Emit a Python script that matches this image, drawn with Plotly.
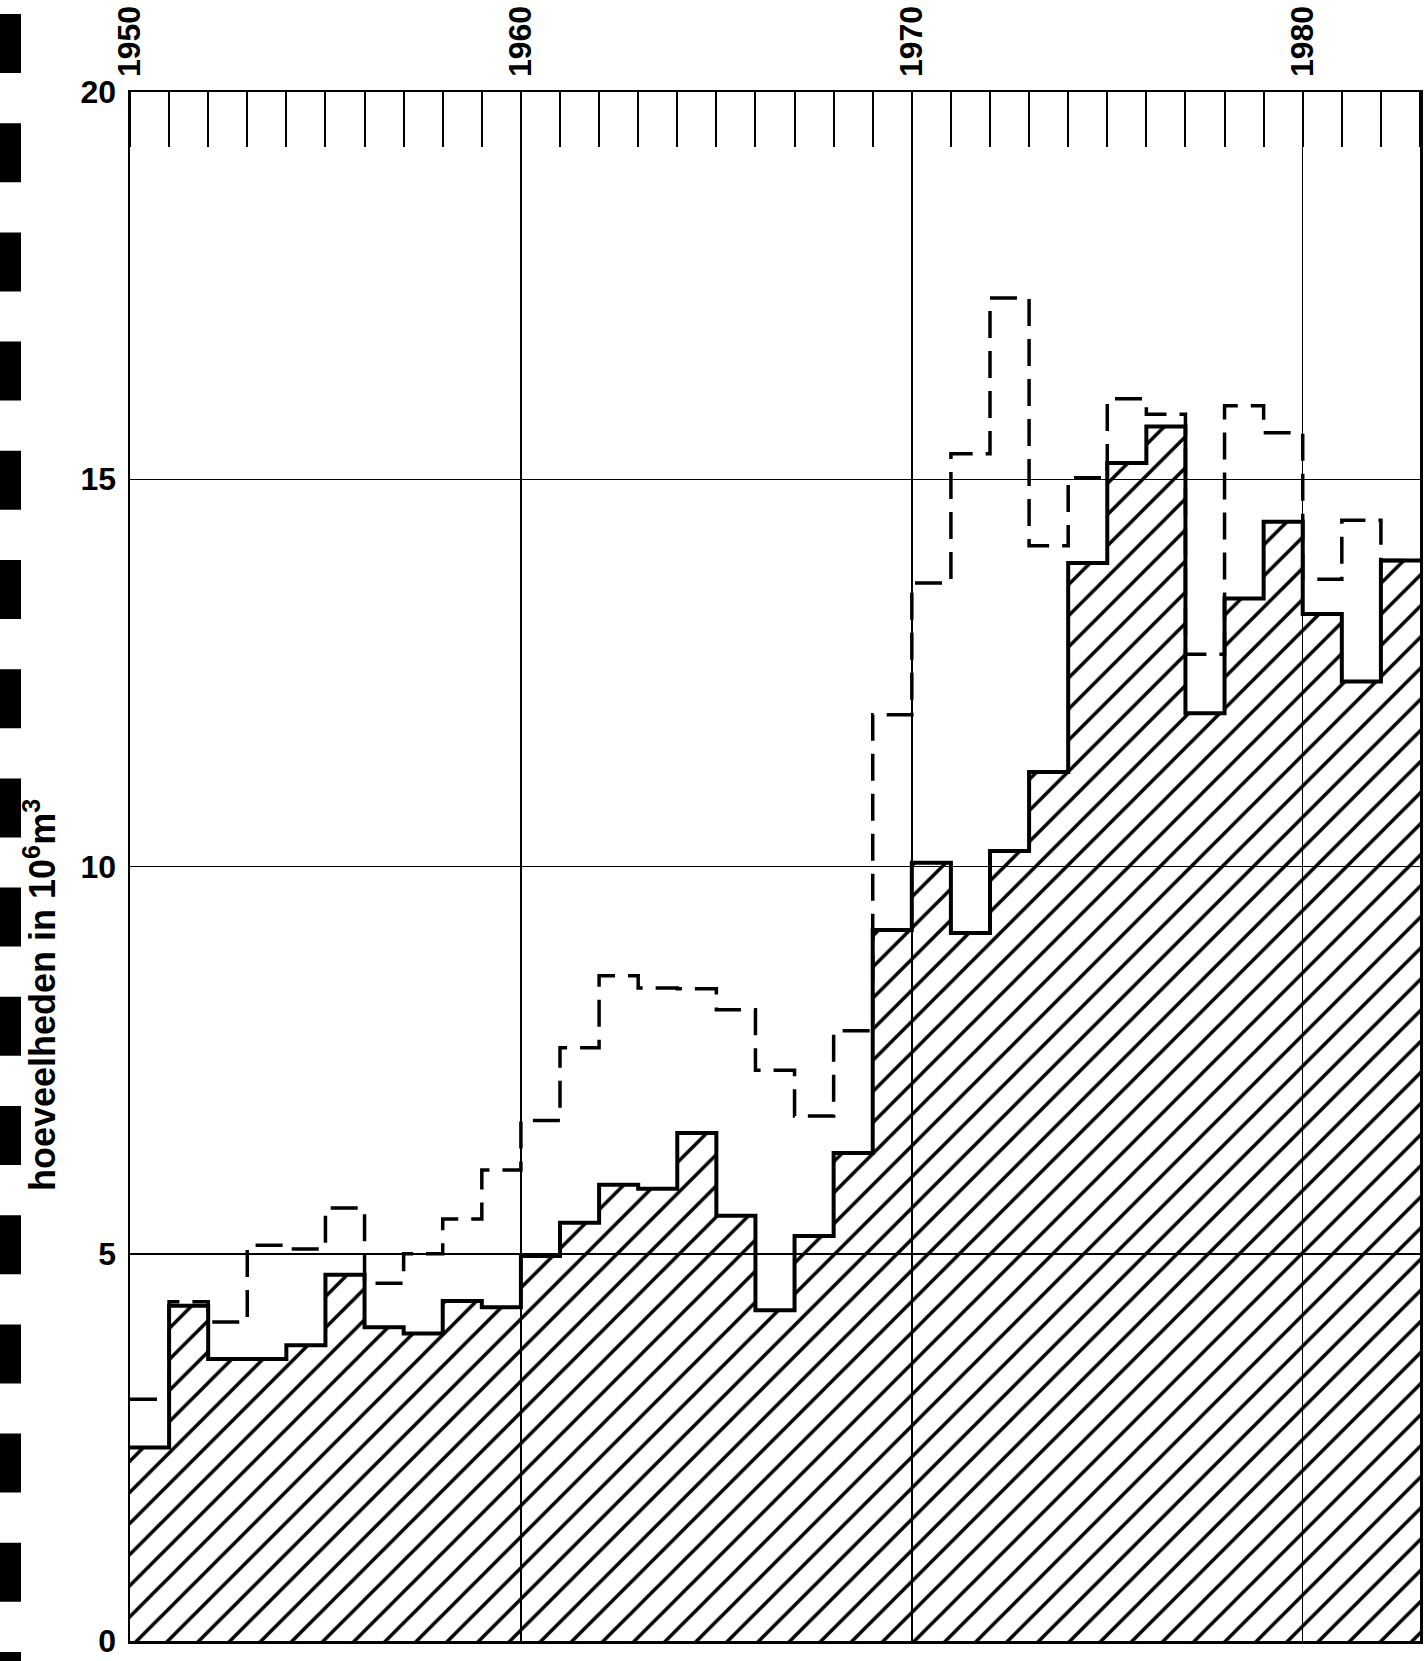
import plotly.graph_objects as go

# ---------------- data ----------------
years = list(range(1950, 1983))
solid_vals = [2.50, 4.33, 3.64, 3.64, 3.82, 4.73, 4.05, 3.97, 4.39, 4.31,
              4.97, 5.40, 5.89, 5.84, 6.56, 5.49, 4.27, 5.23, 6.30, 9.18,
              10.05, 9.14, 10.20, 11.22, 13.92, 15.21, 15.68, 11.98, 13.46, 14.45,
              13.26, 12.39, 13.95]
dashed_vals = [3.12, 4.38, 4.12, 5.11, 5.06, 5.59, 4.62, 5.00, 5.45, 6.08,
               6.72, 7.66, 8.59, 8.43, 8.42, 8.15, 7.37, 6.78, 7.88, 11.96,
               13.66, 15.33, 17.34, 14.14, 15.02, 16.04, 15.84, 12.74, 15.95, 15.60,
               13.71, 14.47, 13.95]
year_ticks = [1950, 1960, 1970, 1980]
y_ticks = [0, 5, 10, 15, 20]
y_title = "hoeveelheden in 10<sup>6</sup>m<sup>3</sup>"

# step edges: each value spans one year
x_edges = years + [years[-1] + 1]
solid_steps = solid_vals + [solid_vals[-1]]
dashed_steps = dashed_vals + [dashed_vals[-1]]

W, H = 1424, 1661
ML, MR, MT, MB = 130, 4, 92, 20
PW, PH = W - ML - MR, H - MT - MB
FONT = "Liberation Sans, Arial, sans-serif"

fig = go.Figure()

# hatched area below solid line
fig.add_trace(go.Scatter(
    x=x_edges, y=solid_steps, mode="lines", line=dict(shape="hv", width=0, color="black"),
    fill="tozeroy", fillcolor="rgba(255,255,255,0)",
    fillpattern=dict(shape="/", size=22, solidity=0.16, fgcolor="black", fgopacity=1),
    hoverinfo="skip", showlegend=False))

# dashed series
fig.add_trace(go.Scatter(
    x=x_edges, y=dashed_steps, mode="lines",
    line=dict(shape="hv", width=3.5, color="black", dash="27px,13px"),
    hoverinfo="skip", showlegend=False))

# solid series
fig.add_trace(go.Scatter(
    x=x_edges, y=solid_steps, mode="lines",
    line=dict(shape="hv", width=4, color="black"),
    hoverinfo="skip", showlegend=False))

fig.update_xaxes(
    range=[1950, 1983], side="top",
    tickmode="array", tickvals=year_ticks, ticktext=[str(v) for v in year_ticks],
    tickangle=-90, ticks="", ticklabelstandoff=6,
    tickfont=dict(family=FONT, size=32, color="black", weight="bold"),
    showgrid=True, gridcolor="black", gridwidth=1.5,
    showline=True, mirror=True, linecolor="black", linewidth=2.5,
    zeroline=False,
    minor=dict(ticks="inside", dtick=1, tick0=1950, ticklen=55, tickwidth=2,
               tickcolor="black", showgrid=False),
)
fig.update_yaxes(
    range=[0, 20], tickmode="array", tickvals=y_ticks,
    ticks="", ticklabelstandoff=5,
    tickfont=dict(family=FONT, size=32, color="black", weight="bold"),
    showgrid=True, gridcolor="black", gridwidth=1.5,
    showline=True, mirror=True, linecolor="black", linewidth=2.5,
    zeroline=False,
)

# y-axis title
fig.add_annotation(
    text=y_title, textangle=-90, showarrow=False,
    xref="paper", yref="paper",
    x=(40 - ML) / PW, y=(H - MB - 995) / PH, xanchor="center", yanchor="middle",
    font=dict(family=FONT, size=36, color="black", weight="bold"))

# black perforation-like marks along the left edge of the scan
bar_top0, bar_period, bar_h, bar_w = 14, 109.2, 59, 21
shapes = []
k = 0
while bar_top0 + k * bar_period < H:
    top = bar_top0 + k * bar_period
    bot = min(top + bar_h, H)
    shapes.append(dict(type="rect", xref="paper", yref="paper",
                       x0=(0 - ML) / PW, x1=(bar_w - ML) / PW,
                       y0=(H - MB - bot) / PH, y1=(H - MB - top) / PH,
                       fillcolor="black", line=dict(width=0), layer="above"))
    k += 1
fig.update_layout(shapes=shapes)

fig.update_layout(
    width=W, height=H, autosize=False,
    margin=dict(l=ML, r=MR, t=MT, b=MB, autoexpand=False),
    paper_bgcolor="white", plot_bgcolor="white",
    showlegend=False, hovermode=False,
)

fig.write_html("out.html", config={"displayModeBar": False, "staticPlot": True},
               post_script="document.body.style.margin='0';document.body.style.overflow='hidden';")
